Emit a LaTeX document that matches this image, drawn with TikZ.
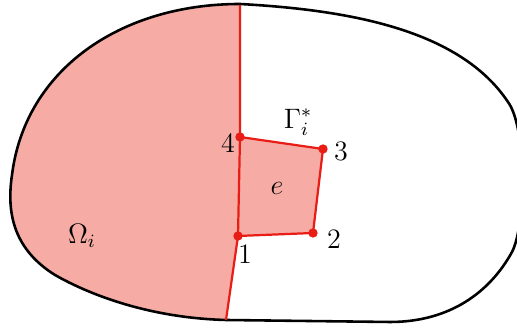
\documentclass[tikz,border=0pt]{standalone}
\usepackage{tikz}
\usetikzlibrary{positioning,calc}

\definecolor{edgered}{RGB}{232,30,22}
\definecolor{regionfill}{RGB}{246,172,165}

\begin{document}
\begin{tikzpicture}[
  x=0.015cm, y=-0.015cm,
  every node/.style={font=\fontsize{12}{14}\selectfont},
  boundary/.style={line width=1.1pt, black},
  cut/.style={line width=0.95pt, edgered},
  vertex/.style={circle, fill=edgered, inner sep=0pt, minimum size=4pt}
]
\useasboundingbox (0,0) rectangle (517,331);

\def\domain{(240,4) .. controls (350,10) and (460,30) .. (508,102)
  .. controls (527,128) and (526,225) .. (512,252)
  .. controls (490,292) and (450,322) .. (390,322)
  -- (226,320)
  .. controls (150,318) and (90,295) .. (55,275)
  .. controls (15,250) and (6,215) .. (12,175)
  .. controls (25,70) and (120,4) .. (240,4) -- cycle}

% shaded part of the domain
\begin{scope}
  \clip (-10,-10) -- (240,-10) -- (240,137) -- (238,236) -- (223,345) -- (-10,345) -- cycle;
  \fill[regionfill] \domain;
\end{scope}

% element vertices
\coordinate (p1) at (238,236);
\coordinate (p2) at (313,233);
\coordinate (p3) at (323,149);
\coordinate (p4) at (240,137);
\coordinate (top) at (240,5);
\coordinate (bot) at (226,320);

\fill[regionfill] (p1) -- (p2) -- (p3) -- (p4) -- cycle;

% outer boundary
\draw[boundary] \domain;

\draw[cut] (top) -- (p4) -- (p1) -- (bot);
\draw[cut] (p1) -- (p2) -- (p3) -- (p4);

\foreach \p in {p1,p2,p3,p4}
  \node[vertex] at (\p) {};

\node (n1) at (245,254) {$1$};
\node (n2) at (334,239) {$2$};
\node (n3) at (341,151) {$3$};
\node (n4) at (228,143) {$4$};
\node (elem) at (277,188) {$e$};
\node (gamma) at (298,122) {$\Gamma_i^*$};
\node (omega) at (82,236) {$\Omega_i$};
\end{tikzpicture}
\end{document}
